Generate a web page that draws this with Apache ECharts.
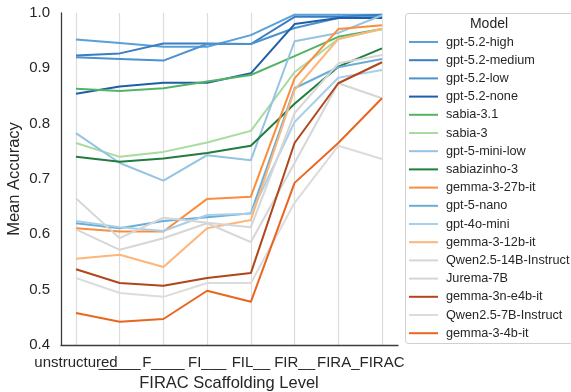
<!DOCTYPE html>
<html>
<head>
<meta charset="utf-8">
<script src="https://cdn.jsdelivr.net/npm/echarts@6/dist/echarts.min.js"></script>
<style>
  html, body { margin: 0; padding: 0; background: #ffffff; }
  #chart { width: 571px; height: 392px; }
</style>
</head>
<body>
<div id="chart"></div>
<script>
// scaffolding levels (x categories)
const categories = ["unstructured", "_____", "F____", "FI___", "FIL__", "FIR__", "FIRA_", "FIRAC"];
const yTicks = [0.4, 0.5, 0.6, 0.7, 0.8, 0.9, 1.0];

// mean accuracy per model
const gpt52High = [0.952, 0.946, 0.939, 0.939, 0.960, 0.997, 0.997, 0.997];
const gpt52Medium = [0.923, 0.927, 0.945, 0.945, 0.944, 0.993, 0.993, 0.997];
const gpt52Low = [0.920, 0.917, 0.914, 0.944, 0.944, 0.973, 0.991, 0.993];
const gpt52None = [0.854, 0.867, 0.874, 0.874, 0.891, 0.980, 0.991, 0.991];
const sabia31 = [0.863, 0.859, 0.864, 0.876, 0.888, 0.922, 0.957, 0.971];
const sabia3 = [0.765, 0.740, 0.749, 0.766, 0.787, 0.893, 0.953, 0.971];
const gpt5MiniLow = [0.783, 0.729, 0.697, 0.743, 0.734, 0.949, 0.964, 0.996];
const sabiazinho3 = [0.740, 0.731, 0.737, 0.747, 0.760, 0.836, 0.903, 0.936];
const gemma27b = [0.611, 0.605, 0.605, 0.664, 0.668, 0.882, 0.971, 0.978];
const gpt5Nano = [0.620, 0.611, 0.624, 0.631, 0.638, 0.864, 0.902, 0.917];
const gpt4oMini = [0.624, 0.613, 0.606, 0.635, 0.637, 0.803, 0.883, 0.897];
const gemma12b = [0.556, 0.563, 0.541, 0.611, 0.626, 0.861, 0.953, 0.971];
const qwen14b = [0.665, 0.593, 0.630, 0.621, 0.613, 0.819, 0.909, 0.924];
const jurema7b = [0.609, 0.572, 0.593, 0.620, 0.586, 0.729, 0.873, 0.846];
const gemma3n = [0.537, 0.512, 0.507, 0.521, 0.530, 0.765, 0.873, 0.911];
const qwen7b = [0.521, 0.494, 0.487, 0.512, 0.512, 0.657, 0.760, 0.736];
const gemma4b = [0.458, 0.442, 0.447, 0.498, 0.478, 0.693, 0.765, 0.846];

const models = [
  ["gpt-5.2-high", gpt52High, "#5aa0d6"],
  ["gpt-5.2-medium", gpt52Medium, "#3a7dc2"],
  ["gpt-5.2-low", gpt52Low, "#4b92cf"],
  ["gpt-5.2-none", gpt52None, "#1f5ea8"],
  ["sabia-3.1", sabia31, "#52b464"],
  ["sabia-3", sabia3, "#a9dba1"],
  ["gpt-5-mini-low", gpt5MiniLow, "#94c4e2"],
  ["sabiazinho-3", sabiazinho3, "#217c3e"],
  ["gemma-3-27b-it", gemma27b, "#fb8d3d"],
  ["gpt-5-nano", gpt5Nano, "#69aed8"],
  ["gpt-4o-mini", gpt4oMini, "#a9cfe8"],
  ["gemma-3-12b-it", gemma12b, "#fdb57a"],
  ["Qwen2.5-14B-Instruct", qwen14b, "#d6d6d6"],
  ["Jurema-7B", jurema7b, "#d6d6d6"],
  ["gemma-3n-e4b-it", gemma3n, "#b0461b"],
  ["Qwen2.5-7B-Instruct", qwen7b, "#dcdcdc"],
  ["gemma-3-4b-it", gemma4b, "#e8661f"]
];

const font = "Liberation Sans, Arial, sans-serif";
const textColor = "#262626";

const chart = echarts.init(document.getElementById("chart"));

const option = {
  animation: false,
  backgroundColor: "#ffffff",
  textStyle: { fontFamily: font },
  grid: [
    // frame grid: spines and y labels
    { left: 61, right: 173, top: 13, bottom: 47, outerBoundsMode: "none" },
    // data grid: category positions inset like matplotlib margins
    { left: 76, right: 189, top: 13, bottom: 47, outerBoundsMode: "none" }
  ],
  xAxis: [
    {
      gridIndex: 0,
      type: "value",
      min: 0,
      max: 1,
      axisLine: { show: true, lineStyle: { color: "#3d3d3d", width: 1.3 } },
      axisTick: { show: false },
      axisLabel: { show: false },
      splitLine: { show: false }
    },
    {
      gridIndex: 1,
      type: "category",
      data: categories,
      boundaryGap: false,
      axisLine: { show: false },
      axisTick: { show: false },
      axisLabel: {
        interval: 0,
        margin: 10,
        fontSize: 15,
        color: textColor,
        fontFamily: font,
        hideOverlap: false
      },
      splitLine: { show: true, interval: 0, lineStyle: { color: "#dcdcdc", width: 1.2 } },
      name: "FIRAC Scaffolding Level",
      nameLocation: "middle",
      nameGap: 26,
      nameTextStyle: { fontSize: 16.5, color: textColor, fontFamily: font }
    }
  ],
  yAxis: [
    {
      gridIndex: 0,
      type: "value",
      min: yTicks[0],
      max: yTicks[yTicks.length - 1],
      interval: 0.1,
      axisLine: { show: true, lineStyle: { color: "#3d3d3d", width: 1.3 } },
      axisTick: { show: false },
      axisLabel: {
        margin: 11,
        fontSize: 15,
        color: textColor,
        fontFamily: font,
        formatter: v => v.toFixed(1)
      },
      splitLine: { show: false },
      name: "Mean Accuracy",
      nameLocation: "middle",
      nameGap: 38,
      nameRotate: 90,
      nameMoveOverlap: false,
      nameTextStyle: { fontSize: 16.5, color: textColor, fontFamily: font }
    },
    {
      gridIndex: 1,
      type: "value",
      min: yTicks[0],
      max: yTicks[yTicks.length - 1],
      show: false,
      splitLine: { show: false }
    }
  ],
  legend: {
    orient: "vertical",
    left: 408,
    top: 35,
    itemWidth: 29,
    itemHeight: 14,
    itemGap: 4.2,
    padding: 0,
    data: models.map(m => m[0]),
    itemStyle: { opacity: 0 },
    textStyle: {
      fontSize: 12.7,
      lineHeight: 14,
      color: textColor,
      fontFamily: font,
      padding: [0, 0, 0, 3]
    }
  },
  graphic: [
    {
      type: "rect",
      z: -1,
      shape: { x: 405.5, y: 13.5, width: 170, height: 330, r: 3 },
      style: { fill: "#ffffff", stroke: "#d0d0d0", lineWidth: 1 }
    },
    {
      type: "text",
      x: 489,
      y: 24,
      style: {
        text: "Model",
        fontSize: 14,
        fontFamily: font,
        fill: textColor,
        align: "center",
        verticalAlign: "middle"
      }
    }
  ],
  series: models.map(([name, vals, color]) => ({
    name: name,
    type: "line",
    xAxisIndex: 1,
    yAxisIndex: 1,
    data: vals,
    symbol: "none",
    showSymbol: false,
    color: color,
    lineStyle: { color: color, width: 2 },
    emphasis: { disabled: true }
  }))
};

chart.setOption(option);
</script>
</body>
</html>
